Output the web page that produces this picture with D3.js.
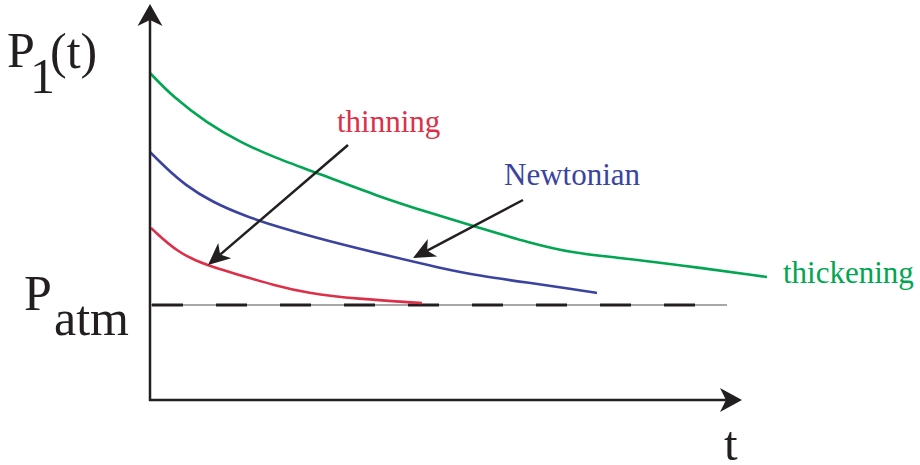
<!DOCTYPE html>
<html>
<head>
<meta charset="utf-8">
<script src="https://cdn.jsdelivr.net/npm/d3@7"></script>
<style>
  html, body { margin: 0; padding: 0; background: #fff; }
  svg { display: block; }
  text { font-family: "Liberation Serif", "Times New Roman", serif; }
</style>
</head>
<body>
<svg id="chart" width="920" height="465"></svg>
<script>
// ---- data (arbitrary units) ----
const thickeningT = [0, 23, 57, 90, 123, 167, 230, 280, 330, 380, 423, 463, 530, 617];
const thickeningP = [327, 303, 277, 258, 243, 227, 203, 187, 172, 157, 147, 143, 135, 123];
const newtonianT  = [0, 15, 35, 62, 95, 128, 178, 235, 290, 330, 380, 423, 447];
const newtonianP  = [248, 233, 215, 198, 184, 173, 159, 145, 132, 124, 117, 111, 107];
const thinningT   = [1, 28, 58, 90, 123, 157, 207, 272];
const thinningP   = [172, 147, 134, 125, 115, 107, 101, 97];
const patmValue = 95;
const patmEnd = 577;
const labels = ["thickening", "Newtonian", "thinning"];

const svg = d3.select("#chart");
const x = d3.scaleLinear().domain([0, 592]).range([150, 742]);
const y = d3.scaleLinear().domain([0, 396]).range([400, 4]);

function arrowHead(x1, y1, x2, y2, L, Wd, notch) {
  const dx = x2 - x1, dy = y2 - y1, len = Math.hypot(dx, dy);
  const ux = dx / len, uy = dy / len, nx = -uy, ny = ux;
  const bx = x2 - L * ux, by = y2 - L * uy;
  return `M${x2},${y2}L${bx + Wd * nx},${by + Wd * ny}L${x2 - (L - notch) * ux},${y2 - (L - notch) * uy}L${bx - Wd * nx},${by - Wd * ny}Z`;
}
function arrow(g, x1, y1, x2, y2, L, Wd, notch, sw) {
  const dx = x2 - x1, dy = y2 - y1, len = Math.hypot(dx, dy);
  const ex = x2 - (L - notch) * dx / len, ey = y2 - (L - notch) * dy / len;
  g.append("line").attr("x1", x1).attr("y1", y1).attr("x2", ex).attr("y2", ey)
    .attr("stroke", "#231f20").attr("stroke-width", sw);
  g.append("path").attr("d", arrowHead(x1, y1, x2, y2, L, Wd, notch)).attr("fill", "#231f20");
}

// Patm reference line
svg.append("line").attr("x1", x(0)).attr("x2", x(patmEnd))
  .attr("y1", y(patmValue)).attr("y2", y(patmValue))
  .attr("stroke", "#8a8a8a").attr("stroke-width", 1.5);
svg.append("line").attr("x1", x(2)).attr("x2", x(patmEnd))
  .attr("y1", y(patmValue)).attr("y2", y(patmValue))
  .attr("stroke", "#231f20").attr("stroke-width", 3)
  .attr("stroke-dasharray", "31,33");

// curves
const line = d3.line().x(d => x(d[0])).y(d => y(d[1])).curve(d3.curveBasis);
const series = [
  {t: thickeningT, p: thickeningP, color: "#00a651"},
  {t: newtonianT, p: newtonianP, color: "#3a44a0"},
  {t: thinningT, p: thinningP, color: "#dc3049"}
];
series.forEach(s => {
  svg.append("path").attr("d", line(s.t.map((t, i) => [t, s.p[i]])))
    .attr("fill", "none").attr("stroke", s.color).attr("stroke-width", 2.6);
});

// axes with arrows
const ax = svg.append("g");
arrow(ax, x(0), y(0) + 1, x(0), y(396), 22, 12.5, 6, 2.5);
arrow(ax, x(0) - 1, y(0), x(592), y(0), 22, 12, 6, 2.5);

// pointer arrows
arrow(svg.append("g"), x(198), y(255), x(58), y(135), 22, 10, 6, 2.5);
arrow(svg.append("g"), x(373), y(200), x(263), y(142), 22, 10, 6, 2.5);

// labels
svg.append("text").attr("x", 783).attr("y", 283).attr("font-size", 31).attr("fill", "#00a651").text(labels[0]);
svg.append("text").attr("x", 504).attr("y", 185).attr("font-size", 31).attr("fill", "#3a44a0").text(labels[1]);
svg.append("text").attr("x", 337).attr("y", 132).attr("font-size", 31).attr("fill", "#dc3049").text(labels[2]);

// axis titles
const tc = "#231f20";
svg.append("text").attr("x", 7).attr("y", 67).attr("font-size", 50).attr("fill", tc).text("P");
svg.append("text").attr("x", 30).attr("y", 93).attr("font-size", 50).attr("fill", tc).text("1");
svg.append("text").attr("x", 50).attr("y", 68).attr("font-size", 50).attr("fill", tc).text("(t)");
svg.append("text").attr("x", 24).attr("y", 310).attr("font-size", 50).attr("fill", tc).text("P");
svg.append("text").attr("x", 54).attr("y", 335).attr("font-size", 50).attr("fill", tc).text("atm");
svg.append("text").attr("x", 724).attr("y", 460).attr("font-size", 49).attr("fill", tc).text("t");
</script>
</body>
</html>
